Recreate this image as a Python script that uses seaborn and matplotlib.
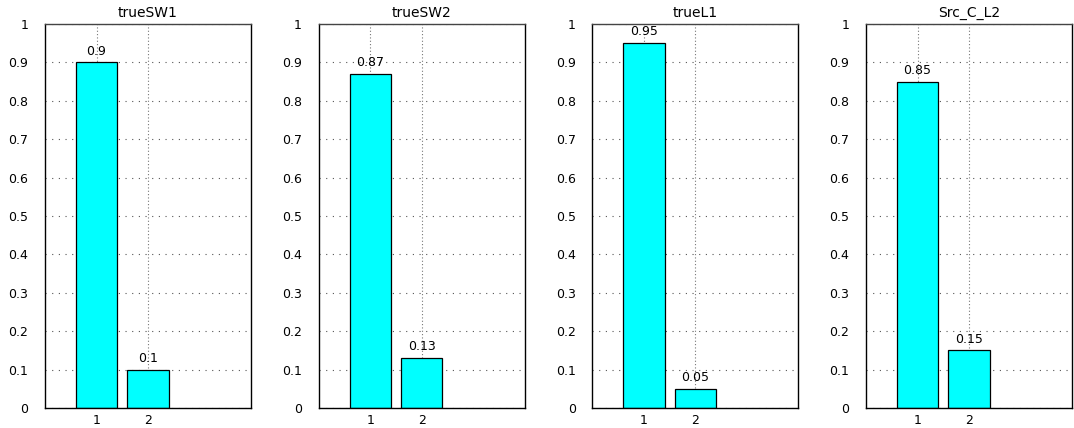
import matplotlib
matplotlib.use("Agg")
import matplotlib.pyplot as plt
import seaborn as sns
import pandas as pd


titles = ["trueSW1", "trueSW2", "trueL1", "Src_C_L2"]
positions = [1, 2]
values = [
    [0.9, 0.1],
    [0.87, 0.13],
    [0.95, 0.05],
    [0.85, 0.15],
]
yticks = [0, 0.1, 0.2, 0.3, 0.4, 0.5, 0.6, 0.7, 0.8, 0.9, 1]
ytick_labels = ["0", "0.1", "0.2", "0.3", "0.4", "0.5", "0.6", "0.7", "0.8", "0.9", "1"]

sns.set_style("white", {"text.color": "black", "xtick.color": "black",
                        "ytick.color": "black", "axes.labelcolor": "black"})
plt.rcParams["font.family"] = ["DejaVu Sans"]
plt.rcParams["font.size"] = 9

fig = plt.figure(figsize=(10.74, 4.28), dpi=100)

for i, (title, vals) in enumerate(zip(titles, values)):
    left = (45 + i * 273.7) / 1074
    ax = fig.add_axes([left, 20 / 428, 206 / 1074, 384 / 428])
    df = pd.DataFrame({"x": positions, "y": vals})
    sns.barplot(data=df, x="x", y="y", native_scale=True, color="#00ffff",
                saturation=1, edgecolor="black", linewidth=0.9, ax=ax)
    ax.set_xlim(0, 4)
    ax.set_ylim(0, 1)
    ax.set_xticks(positions)
    ax.set_xticklabels([str(p) for p in positions])
    ax.set_yticks(yticks)
    ax.set_yticklabels(ytick_labels)
    ax.set_xlabel("")
    ax.set_ylabel("")
    ax.set_title(title, fontsize=10, pad=5, color="black")
    ax.set_axisbelow(True)
    ax.yaxis.grid(True, color="#555555", linestyle=(0, (1, 5)), linewidth=0.8)
    ax.xaxis.grid(True, color="#777777", linestyle=(0, (1, 2)), linewidth=0.8)
    ax.tick_params(axis="x", length=3, direction="in", labelsize=9, pad=4,
                   colors="black")
    ax.tick_params(axis="y", length=3, direction="in", labelsize=9, pad=12,
                   colors="black")
    for s in ax.spines.values():
        s.set_visible(True)
        s.set_color("black")
        s.set_linewidth(1.0)
    ax.spines["top"].set_color("#444444")
    ax.bar_label(ax.containers[0], fmt="%g", padding=3.5, fontsize=9,
                 color="black")

fig.savefig("out.png", dpi=100)
